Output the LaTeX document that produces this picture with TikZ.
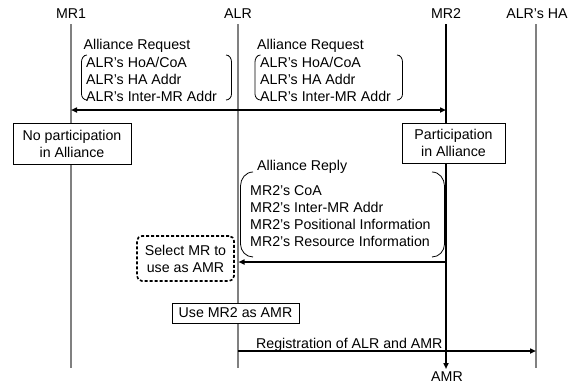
\documentclass[tikz,border=0pt]{standalone}
\usepackage{fontspec}
\setmainfont{Liberation Sans}
\usetikzlibrary{arrows.meta}
\begin{document}
\begin{tikzpicture}[x=1pt,y=-1pt,
  txt/.style={font=\fontsize{14.2}{17}\selectfont, inner sep=0pt, anchor=base west},
  hdr/.style={font=\fontsize{14.2}{17}\selectfont, inner sep=0pt, anchor=base},
  life/.style={draw=black!50, line width=1.5pt},
  lifeb/.style={draw=black, line width=1.5pt},
  msg/.style={draw=black, line width=2pt, -{Triangle[length=6pt,width=5pt]}},
  statebox/.style={draw=black, line width=0.9pt, fill=white, align=center,
     font=\fontsize{14.2}{17}\selectfont, inner sep=0pt},
  selbox/.style={draw=black, line width=1.6pt, dashed, dash pattern=on 3pt off 2pt, rounded corners=5pt, fill=white, align=center,
     font=\fontsize{14.2}{17}\selectfont, inner sep=0pt},
  brk/.style={draw=black, line width=0.8pt}
]
\useasboundingbox (0,0) rectangle (575,384);
% headers
\node[hdr] (hmr1) at (71,18) {MR1};
\node[hdr] (halr) at (238,18) {ALR};
\node[hdr] (hmr2) at (446,18) {MR2};
\node[hdr] (hha) at (537,18) {ALR's HA};
% lifeline coordinates
\coordinate (mr1t) at (71,24);  \coordinate (mr1b) at (71,368);
\coordinate (alrt) at (238,24); \coordinate (alrb) at (238,368);
\coordinate (mr2t) at (446,24); \coordinate (mr2b) at (446,369);
\coordinate (hat) at (536,24);  \coordinate (hab) at (536,368);
\draw[life] (mr1t) -- (mr1b);
\draw[life] (alrt) -- (alrb);
\draw[life] (hat) -- (hab);
\draw[lifeb, -{Triangle[length=6pt,width=5pt]}] (mr2t) -- (mr2b);
\node[hdr] (amr) at (447,381.5) {AMR};

% request messages
\coordinate (req) at (238,110);
\coordinate (reqL) at (71,110);
\coordinate (reqR) at (446,110);
\draw[msg] (req) -- (reqL);
\draw[msg] (req) -- (reqR);

% request labels left
\node[txt] (rq1h) at (83.5,49) {Alliance Request};
\node[txt] (rq1a) at (86,67) {ALR's HoA/CoA};
\node[txt] (rq1b) at (86,84) {ALR's HA Addr};
\node[txt] (rq1c) at (86,101) {ALR's Inter-MR Addr};
\draw[brk] (87,55) to[out=180,in=90] (81.5,62) -- (81.5,94) to[out=-90,in=180] (87,100);
\draw[brk] (226,55) to[out=0,in=90] (231.5,62) -- (231.5,94) to[out=-90,in=0] (226,100);
% request labels right
\node[txt] (rq2h) at (257,49) {Alliance Request};
\node[txt] (rq2a) at (260,67) {ALR's HoA/CoA};
\node[txt] (rq2b) at (260,84) {ALR's HA Addr};
\node[txt] (rq2c) at (260,101) {ALR's Inter-MR Addr};
\draw[brk] (260.5,55) to[out=180,in=90] (255,62) -- (255,94) to[out=-90,in=180] (260.5,100);
\draw[brk] (397,55) to[out=0,in=90] (402.5,62) -- (402.5,94) to[out=-90,in=0] (397,100);

% state boxes
\node[statebox, minimum width=118pt, minimum height=41pt] (nop) at (72,143.5) {No participation\\in Alliance};
\node[statebox, minimum width=103pt, minimum height=40pt] (par) at (453.5,143) {Participation\\in Alliance};

% reply
\node[txt] (rph) at (257,170) {Alliance Reply};
\node[txt] (rp1) at (250,195) {MR2's CoA};
\node[txt] (rp2) at (250,212) {MR2's Inter-MR Addr};
\node[txt] (rp3) at (250,229) {MR2's Positional Information};
\node[txt] (rp4) at (250,246) {MR2's Resource Information};
\draw[brk] (253,172) to[out=180,in=90] (240.5,186) -- (240.5,244) to[out=-90,in=180] (253,257);
\draw[brk] (432,172) to[out=0,in=90] (444.5,186) -- (444.5,244) to[out=-90,in=0] (432,257);
\coordinate (rpR) at (446,262);
\coordinate (rpL) at (238.5,262);
\draw[msg] (rpR) -- (rpL);

% select box
\node[selbox, minimum width=97pt, minimum height=45pt] (sel) at (185.5,258.5) {Select MR to\\use as AMR};
% use box
\node[statebox, minimum width=127pt, minimum height=20pt] (use) at (235.5,313) {Use MR2 as AMR};

% registration
\node[txt] (reg) at (256,348) {Registration of ALR and AMR};
\coordinate (regL) at (238,351);
\coordinate (regR) at (536,351);
\draw[msg] (regL) -- (regR);
\end{tikzpicture}
\end{document}
